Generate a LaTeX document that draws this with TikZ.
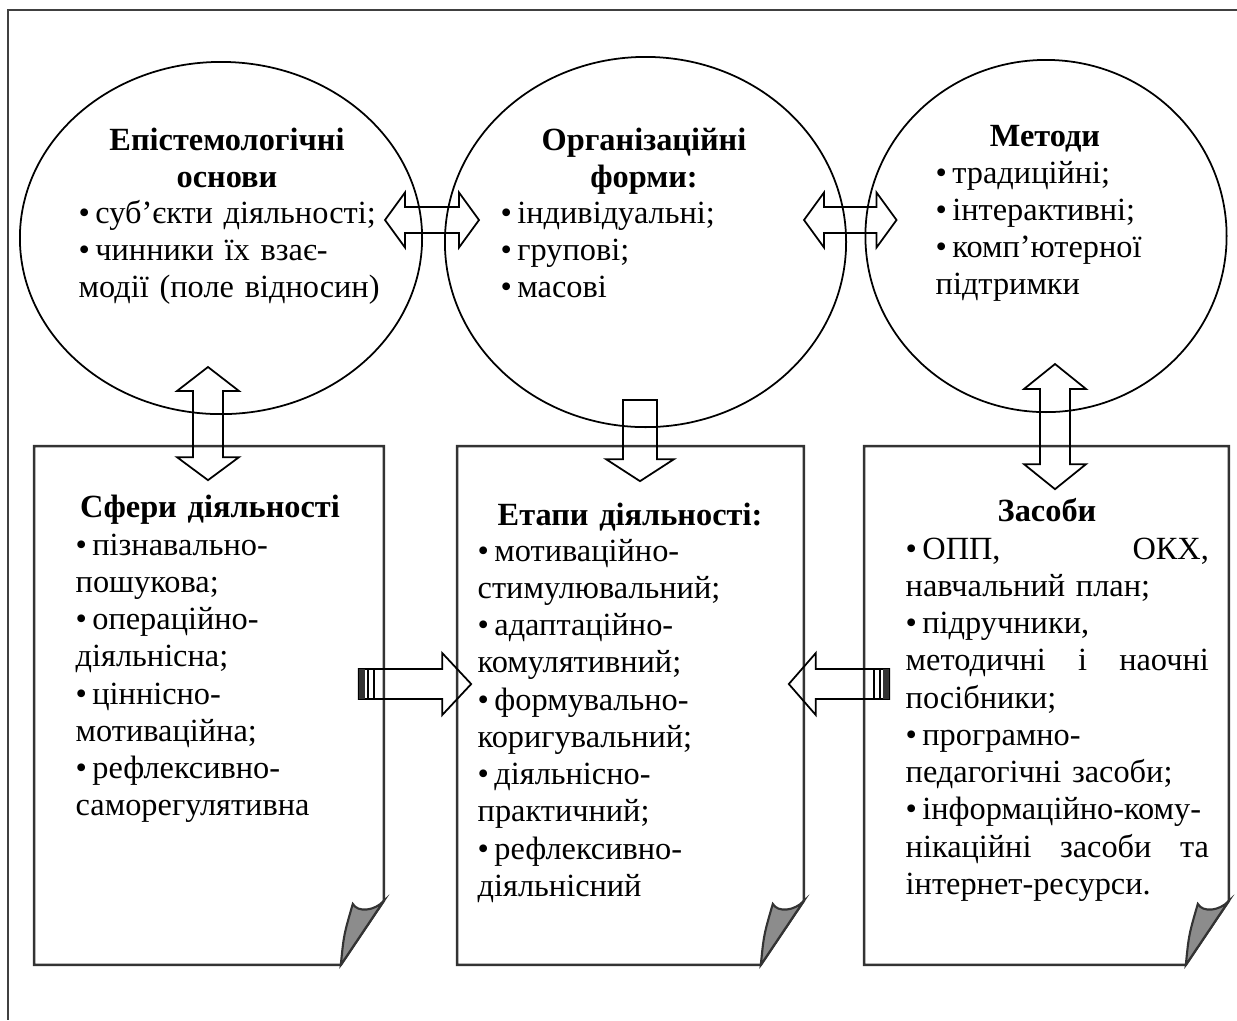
\documentclass[tikz,border=0pt]{standalone}
\usepackage{fontspec}
\setmainfont{Liberation Serif}
\usetikzlibrary{shapes.geometric,calc,positioning}

\newlength{\justw}
\setlength{\justw}{3.03cm}

\tikzset{
  ell/.style={draw, ellipse, line width=0.5pt, inner sep=0pt},
  pagebox/.style={draw=none, inner sep=0pt, minimum height=5.17cm},
  boxline/.style={line width=0.7pt, draw=black!80},
  flap/.style={fill=black!45, draw=black!80, line width=0.6pt},
  barrow/.style={line width=0.5pt, line join=miter},
  headtext/.style={anchor=base, align=center, inner sep=0pt, text width=3.2cm,
    font=\fontsize{9.2}{10.7}\selectfont\bfseries},
  itemtext/.style={anchor=base west, align=left, inner sep=0pt, text width=#1,
    font=\fontsize{9.2}{10.6}\selectfont},
}

\begin{document}
\begin{tikzpicture}[x=0.01cm, y=-0.01cm]
\useasboundingbox (0,0) rectangle (1237,1020);
% outer frame
\draw[line width=0.8pt, black!75] (1237,10) -- (8,10) -- (8,1020);

% top row
\node[ell, minimum width=4.02cm, minimum height=3.52cm] (epist) at (221,238) {};
\node[ell, minimum width=4.01cm, minimum height=3.70cm] (forms) at (645.5,242) {};
\node[ell, minimum width=3.61cm, minimum height=3.52cm] (methods) at (1046,236) {};

% bottom row
\node[pagebox, minimum width=3.48cm] (spheres) at (209,705.5) {};
\node[pagebox, minimum width=3.45cm] (stages) at (630.5,705.5) {};
\node[pagebox, minimum width=3.63cm] (means) at (1046.5,705.5) {};
\foreach \b in {spheres,stages,means}{
  \draw[boxline] (\b.north west) -- (\b.north east) -- ($(\b.south east)+(0,-64)$)
    -- ($(\b.south east)+(-43,0)$) -- (\b.south west) -- cycle;
  \filldraw[flap] ($(\b.south east)+(-31,-61)$) .. controls +(5,9) and +(-9,10) .. ($(\b.south east)+(0,-64)$)
    -- ($(\b.south east)+(-43,0)$) .. controls +(3,-30) .. ($(\b.south east)+(-31,-61)$) -- cycle;
}

% texts
\node[headtext] (epist-h) at (227,150) {Епістемологічні\\основи};
\node[itemtext=3.2cm] (epist-l) at (78,223) {\textbullet\,суб’єкти діяльності;\\\textbullet\,чинники їх взає-\\модії (поле відносин)};
\node[headtext] (forms-h) at (644,150) {Організаційні\\форми:};
\node[itemtext=3cm] (forms-l) at (500,223) {\textbullet\,індивідуальні;\\\textbullet\,групові;\\\textbullet\,масові};
\node[headtext] (methods-h) at (1045,146) {Методи};
\node[itemtext=2.6cm] (methods-l) at (935,183) {\textbullet\,традиційні;\\\textbullet\,інтерактивні;\\\textbullet\,комп’ютерної\\підтримки};

\node[headtext] (spheres-h) at (210,517) {Сфери діяльності};
\node[itemtext=3cm] (spheres-l) at (75,555) {\textbullet\,пізнавально-\\пошукова;\\\textbullet\,операційно-\\діяльнісна;\\\textbullet\,ціннісно-\\мотиваційна;\\\textbullet\,рефлексивно-\\саморегулятивна};
\node[headtext] (stages-h) at (630,525) {Етапи діяльності:};
\node[itemtext=3cm] (stages-l) at (477,561) {\textbullet\,мотиваційно-\\стимулювальний;\\\textbullet\,адаптаційно-\\комулятивний;\\\textbullet\,формувально-\\коригувальний;\\\textbullet\,діяльнісно-\\практичний;\\\textbullet\,рефлексивно-\\діяльнісний};
\node[headtext] (means-h) at (1047,521) {Засоби};
\node[itemtext=3.1cm] (means-l) at (905,559) {\makebox[\justw][l]{\textbullet\,ОПП,\hfill ОКХ,}\\навчальний план;\\\textbullet\,підручники,\\\makebox[\justw][l]{методичні\hfill і\hfill наочні}\\посібники;\\\textbullet\,програмно-\\педагогічні засоби;\\\textbullet\,інформаційно-кому-\\\makebox[\justw][l]{нікаційні\hfill засоби\hfill та}\\інтернет-ресурси.};

% arrow ends
\coordinate (ef-l) at ($(epist.east)+(-38,-18)$);
\coordinate (ef-r) at ($(forms.west)+(35,-22)$);
\coordinate (fm-l) at ($(forms.east)+(-43,-22)$);
\coordinate (fm-r) at ($(methods.west)+(32,-16)$);
\coordinate (es-t) at ($(epist.south)+(-13,-48)$);
\coordinate (es-b) at ($(spheres.north)+(-1,34)$);
\coordinate (fs-t) at ($(forms.south)+(-5.5,-28)$);
\coordinate (fs-b) at ($(stages.north)+(9.5,35)$);
\coordinate (mm-t) at ($(methods.south)+(9,-49)$);
\coordinate (mm-b) at ($(means.north)+(8.5,43)$);
\coordinate (ss-a) at ($(spheres.east)+(-25,-21.5)$);
\coordinate (ss-b) at ($(stages.west)+(14,-21.5)$);
\coordinate (ms-a) at ($(means.west)+(25,-21.5)$);
\coordinate (ms-b) at ($(stages.east)+(-15,-21.5)$);

% double arrows, top row
\draw[barrow] (ef-l) -- ++(20,-27.5) -- ++(0,14.5) -- ($(ef-r)+(-20,-13)$) -- ++(0,-14.5) -- (ef-r)
  -- ++(-20,27.5) -- ++(0,-14.5) -- ($(ef-l)+(20,13)$) -- ++(0,14.5) -- cycle;
\draw[barrow] (fm-l) -- ++(20,-27.5) -- ++(0,14.5) -- ($(fm-r)+(-20,-13)$) -- ++(0,-14.5) -- (fm-r)
  -- ++(-20,27.5) -- ++(0,-14.5) -- ($(fm-l)+(20,13)$) -- ++(0,14.5) -- cycle;

% vertical arrows
\draw[barrow] (es-t) -- ++(31,24) -- ++(-16,0) -- ($(es-b)+(15,-23)$) -- ++(16,0) -- (es-b)
  -- ++(-31,-23) -- ++(16,0) -- ($(es-t)+(-15,24)$) -- ++(-16,0) -- cycle;
\draw[barrow] (mm-t) -- ++(31,25) -- ++(-16,0) -- ($(mm-b)+(15,-25)$) -- ++(16,0) -- (mm-b)
  -- ++(-31,-25) -- ++(16,0) -- ($(mm-t)+(-15,25)$) -- ++(-16,0) -- cycle;
\draw[barrow] ($(fs-t)+(-17,0)$) -- ($(fs-t)+(17,0)$) -- ($(fs-b)+(17,-22)$) -- ++(17,0) -- (fs-b)
  -- ++(-34,-22) -- ++(17,0) -- cycle;

% striped arrows, bottom row
\draw[barrow] ($(ss-a)+(0,-15)$) -- ($(ss-b)+(-29,-15)$) -- ++(0,-16) -- (ss-b) -- ++(-29,31)
  -- ++(0,-16) -- ($(ss-a)+(0,15)$) -- cycle;
\fill[black!80] ($(ss-a)+(0,-15)$) rectangle ++(6,30);
\draw[barrow] ($(ss-a)+(9,-15)$) -- ++(0,30);
\draw[barrow] ($(ss-a)+(15,-15)$) -- ++(0,30);
\draw[barrow] ($(ms-a)+(0,-15)$) -- ($(ms-b)+(27,-15)$) -- ++(0,-16) -- (ms-b) -- ++(27,31)
  -- ++(0,-16) -- ($(ms-a)+(0,15)$) -- cycle;
\fill[black!80] ($(ms-a)+(-6,-15)$) rectangle ++(6,30);
\draw[barrow] ($(ms-a)+(-9,-15)$) -- ++(0,30);
\draw[barrow] ($(ms-a)+(-15,-15)$) -- ++(0,30);
\end{tikzpicture}
\end{document}
